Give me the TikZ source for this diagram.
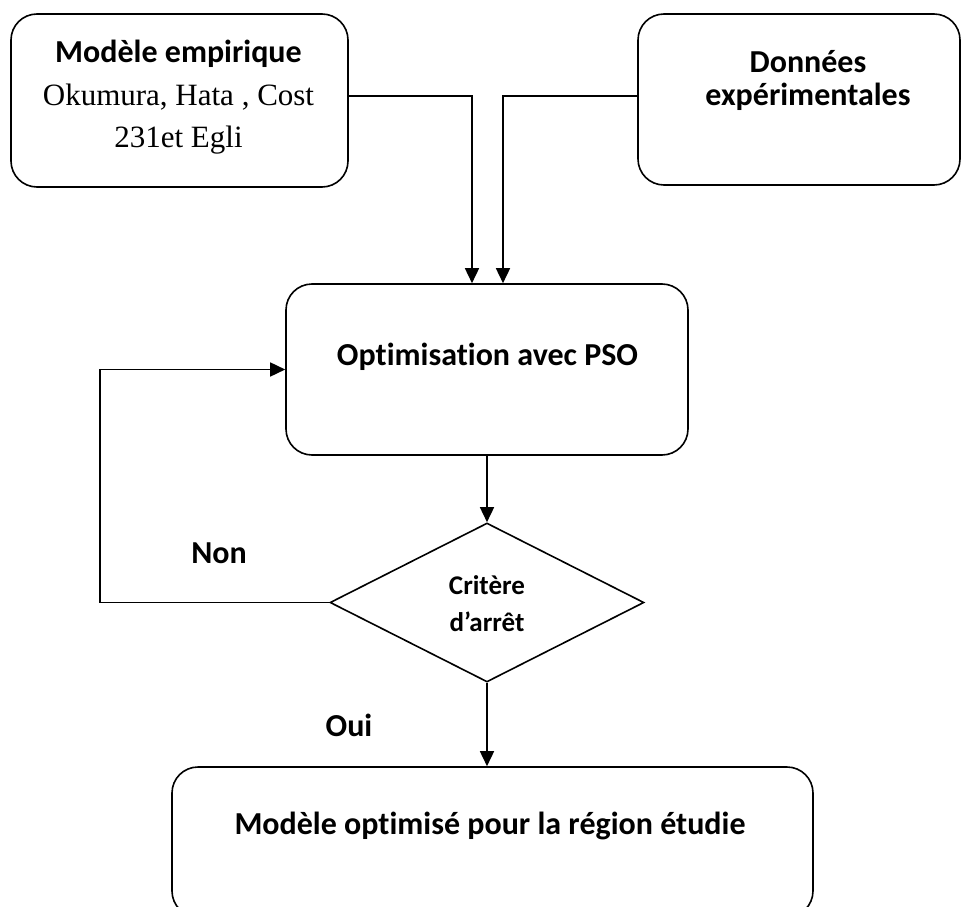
\documentclass[tikz,border=0pt]{standalone}
\usepackage{fontspec}
\setmainfont{Carlito}[Ligatures=NoCommon]
\newfontfamily\timesfont{Liberation Serif}
\usetikzlibrary{arrows.meta,shapes.geometric}

\begin{document}
\begin{tikzpicture}[x=1pt,y=-1pt,
  box/.style={draw, line width=1.6pt, rounded corners=26pt, inner sep=0pt},
  lbl/.style={font=\bfseries\fontsize{32}{36}\selectfont, inner sep=0pt, anchor=base},
  small/.style={font=\bfseries\fontsize{27}{30}\selectfont, inner sep=0pt, anchor=base},
  serif/.style={font=\timesfont\fontsize{31}{36}\selectfont, inner sep=0pt, anchor=base},
  arr/.style={line width=1.6pt, -{Triangle[length=15pt,width=14pt]}}
]
\useasboundingbox (0,0) rectangle (962,907);
\clip (0,0) rectangle (962,907);

% boxes
\node[box, minimum width=337pt, minimum height=173pt] (emp) at (179.5,100.5) {};
\node[box, minimum width=322pt, minimum height=171pt] (data) at (799,99.5) {};
\node[box, minimum width=402pt, minimum height=171pt] (opt) at (487,369.5) {};
\node[draw, line width=1.6pt, diamond, inner sep=0pt,
      minimum width=314pt, minimum height=159pt] (dec) at (487,602.5) {};
\node[box, minimum width=641pt, minimum height=150pt] (res) at (492.5,842) {};

% texts
\node[lbl] (empA) at (178.5,63) {Modèle empirique};
\node[serif] (empB) at (178.5,106) {Okumura, Hata , Cost};
\node[serif] (empC) at (178.5,147) {231et Egli};
\node[lbl] (dataA) at (808,73) {Données};
\node[lbl] (dataB) at (808,106) {expérimentales};
\node[lbl] (optA) at (487.5,365) {Optimisation avec PSO};
\node[small] (decA) at (487,594) {Critère};
\node[small] (decB) at (487,631) {d’arrêt};
\node[lbl] (resA) at (490,834) {Modèle optimisé pour la région étudie};
\node[lbl] (non) at (219,563) {Non};
\node[lbl] (oui) at (349,736) {Oui};

% connectors
\coordinate (loop) at (100,0);
\draw[arr] ([yshift=4.5pt]emp.east) -| ([xshift=-15pt]opt.north);
\draw[arr] ([yshift=3.5pt]data.west) -| ([xshift=16pt]opt.north);
\draw[arr] (opt.south) -- (dec.north);
\draw[arr] (dec.west) -| (loop |- opt.west) -- (opt.west);
\draw[arr] (dec.south) -- (dec.south |- res.north);
\end{tikzpicture}
\end{document}
